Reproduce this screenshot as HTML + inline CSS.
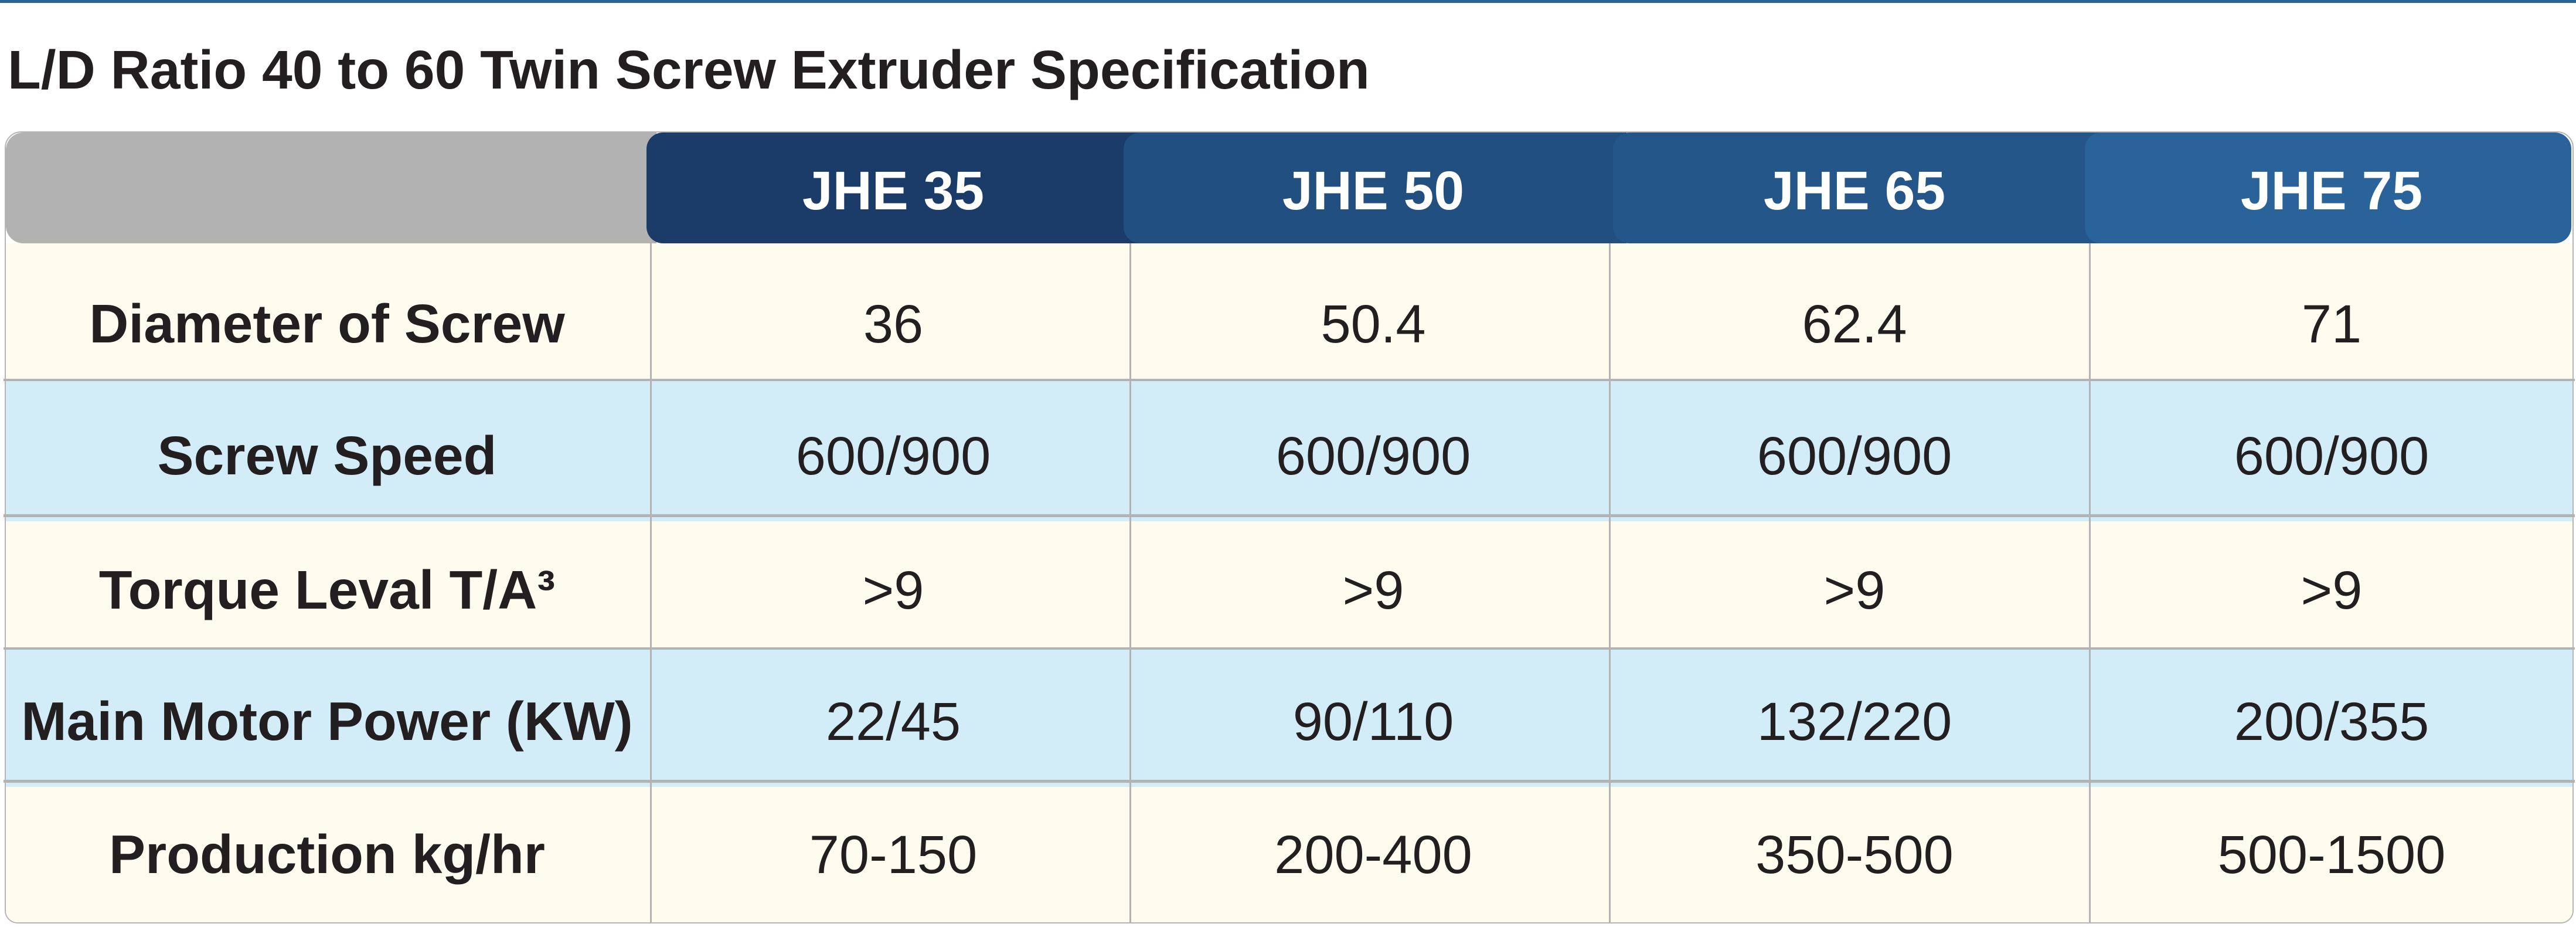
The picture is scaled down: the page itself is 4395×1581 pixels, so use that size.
<!DOCTYPE html>
<html>
<head>
<meta charset="utf-8">
<style>
  html, body { margin:0; padding:0; }
  body { width:4395px; height:1581px; position:relative; overflow:hidden; background:#ffffff;
         font-family:"Liberation Sans", Arial, sans-serif; color:#231f20; }
  .abs { position:absolute; }
  .topline { left:0; top:0; width:4395px; height:5px; background:#2b6399; }
  .title { left:13px; top:73px; font-size:93px; line-height:93px; font-weight:bold; white-space:nowrap; }
  .tbl { position:absolute; left:8px; top:224px; width:4383px; height:1351px; box-sizing:border-box;
         border:2px solid #b5b5b5; border-radius:28px 28px 22px 22px; overflow:hidden; background:#ffffff; }
  .tbl > div { position:absolute; }
  .hl { position:absolute; left:6px; width:4387px; background:#b3b3b3; }
  .vl { position:absolute; top:415px; height:1159px; width:3px; background:#b3b3b3; }
  .t { position:absolute; width:1400px; text-align:center; white-space:nowrap; line-height:93px; }
  .hd { font-size:93px; font-weight:bold; color:#ffffff; }
  .lb { font-size:93px; font-weight:bold; }
  .dv { font-size:92px; line-height:92px; }
</style>
</head>
<body>
<div class="abs topline"></div>
<div class="abs title">L/D Ratio 40 to 60 Twin Screw Extruder Specification</div>

<div class="tbl">
  <!-- row backgrounds (inner coords = page - (10,226)) -->
  <div style="left:0;top:189px;width:4400px;height:235px;background:#fefcee;"></div>
  <div style="left:0;top:424px;width:4400px;height:239px;background:#d2ecf8;"></div>
  <div style="left:0;top:663px;width:4400px;height:219px;background:#fefcee;"></div>
  <div style="left:0;top:882px;width:4400px;height:234px;background:#d2ecf8;"></div>
  <div style="left:0;top:1116px;width:4400px;height:240px;background:#fefcee;"></div>
  <!-- header cells -->
  <div style="left:0;top:0;width:1110px;height:189px;background:#b2b2b2;border-radius:30px 0 0 30px;"></div>
  <div style="left:1093px;top:0;width:847px;height:189px;background:#1b3b68;border-radius:28px 0 0 28px;"></div>
  <div style="left:1907px;top:0;width:858px;height:189px;background:#214f80;border-radius:28px 0 0 28px;"></div>
  <div style="left:2742px;top:0;width:838px;height:189px;background:#245689;border-radius:28px 0 0 28px;"></div>
  <div style="left:3547px;top:0;width:830px;height:189px;background:#296399;border-radius:28px;"></div>
</div>

<!-- horizontal grid lines -->
<div class="hl" style="top:646px;height:4px;"></div>
<div class="hl" style="top:877px;height:5px;"></div>
<div class="hl" style="top:1104px;height:4px;"></div>
<div class="hl" style="top:1330px;height:5px;"></div>

<!-- vertical grid lines -->
<div class="vl" style="left:1109px;"></div>
<div class="vl" style="left:1927px;"></div>
<div class="vl" style="left:2745px;"></div>
<div class="vl" style="left:3564px;"></div>

<!-- header text -->
<div class="t hd" style="left:824px;top:279px;">JHE 35</div>
<div class="t hd" style="left:1643px;top:279px;">JHE 50</div>
<div class="t hd" style="left:2464px;top:279px;">JHE 65</div>
<div class="t hd" style="left:3278px;top:279px;">JHE 75</div>

<!-- row labels -->
<div class="t lb" style="left:-142px;top:506px;">Diameter of Screw</div>
<div class="t lb" style="left:-142px;top:731px;">Screw Speed</div>
<div class="t lb" style="left:-142px;top:960px;">Torque Leval T/A³</div>
<div class="t lb" style="left:-142px;top:1184px;">Main Motor Power (KW)</div>
<div class="t lb" style="left:-142px;top:1411px;">Production kg/hr</div>

<!-- row 1 -->
<div class="t dv" style="left:824px;top:507px;">36</div>
<div class="t dv" style="left:1643px;top:507px;">50.4</div>
<div class="t dv" style="left:2464px;top:507px;">62.4</div>
<div class="t dv" style="left:3278px;top:507px;">71</div>
<!-- row 2 -->
<div class="t dv" style="left:824px;top:732px;">600/900</div>
<div class="t dv" style="left:1643px;top:732px;">600/900</div>
<div class="t dv" style="left:2464px;top:732px;">600/900</div>
<div class="t dv" style="left:3278px;top:732px;">600/900</div>
<!-- row 3 -->
<div class="t dv" style="left:824px;top:961px;">&gt;9</div>
<div class="t dv" style="left:1643px;top:961px;">&gt;9</div>
<div class="t dv" style="left:2464px;top:961px;">&gt;9</div>
<div class="t dv" style="left:3278px;top:961px;">&gt;9</div>
<!-- row 4 -->
<div class="t dv" style="left:824px;top:1185px;">22/45</div>
<div class="t dv" style="left:1643px;top:1185px;">90/110</div>
<div class="t dv" style="left:2464px;top:1185px;">132/220</div>
<div class="t dv" style="left:3278px;top:1185px;">200/355</div>
<!-- row 5 -->
<div class="t dv" style="left:824px;top:1412px;">70-150</div>
<div class="t dv" style="left:1643px;top:1412px;">200-400</div>
<div class="t dv" style="left:2464px;top:1412px;">350-500</div>
<div class="t dv" style="left:3278px;top:1412px;">500-1500</div>
</body>
</html>
